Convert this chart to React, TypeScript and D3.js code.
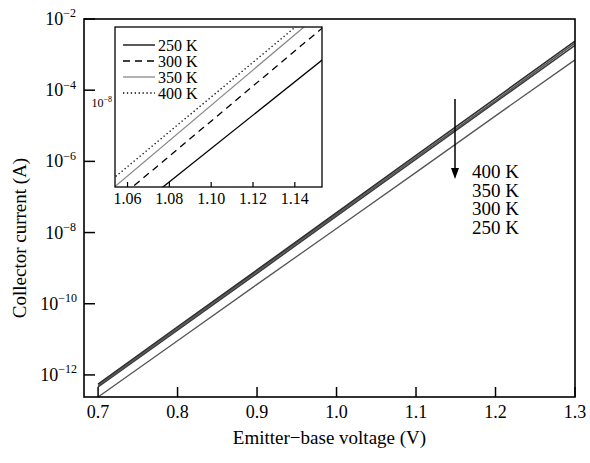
import * as d3 from "d3";

// main plot: collector current (A) vs emitter-base voltage (V)
const voltages = [0.7, 0.8, 0.9, 1.0, 1.1, 1.2, 1.3];
const current400 = [5.5e-13, 2.24e-11, 8.9e-10, 3.6e-8, 1.48e-6, 5.9e-5, 2.4e-3];
const current350 = [5.0e-13, 2.0e-11, 8.1e-10, 3.2e-8, 1.29e-6, 5.1e-5, 2.1e-3];
const current300 = [4.6e-13, 1.82e-11, 7.2e-10, 2.9e-8, 1.15e-6, 4.6e-5, 1.82e-3];
const current250 = [2.4e-13, 9.1e-12, 3.5e-10, 1.3e-8, 4.9e-7, 1.9e-5, 7.1e-4];

// inset (zoom around 1.06 - 1.15 V)
const insetVoltages = [1.05, 1.16];
const inset400 = [1.78e-9, 1.05e-7];
const inset350 = [1.45e-9, 9.1e-8];
const inset300 = [1.05e-9, 6.4e-8];
const inset250 = [6.4e-10, 3.2e-8];

const arrowLabels = ["400 K", "350 K", "300 K", "250 K"];
const insetLegend = ["250 K", "300 K", "350 K", "400 K"];

const xTicks = [0.7, 0.8, 0.9, 1.0, 1.1, 1.2, 1.3];
const yTickExps = [-2, -4, -6, -8, -10, -12];
const insetXTicks = [1.06, 1.08, 1.1, 1.12, 1.14];
const insetYTickExps = [-8];

const W = 590;
const H = 463;
const FONT = "'Liberation Serif', 'Times New Roman', serif";

const frame = { left: 84, right: 575, top: 19, bottom: 397 };
const inset = { left: 115, right: 322, top: 27, bottom: 187 };

const x = d3.scaleLinear().domain([0.6823, 1.3]).range([frame.left, frame.right]);
const y = d3
  .scaleLog()
  .domain([Math.pow(10, -12.62), 1e-2])
  .range([frame.bottom, frame.top]);

const ix = d3.scaleLinear().domain([1.054, 1.153]).range([inset.left, inset.right]);
const iy = d3
  .scaleLog()
  .domain([Math.pow(10, -8.778), Math.pow(10, -7.296)])
  .range([inset.bottom, inset.top]);

const mainLine = d3
  .line<[number, number]>()
  .x((d) => x(d[0]))
  .y((d) => y(d[1]));

const insetLine = d3
  .line<[number, number]>()
  .x((d) => ix(d[0]))
  .y((d) => iy(d[1]));

const zip = (xs: number[], ys: number[]) =>
  xs.map((v, i) => [v, ys[i]] as [number, number]);

const mainSeries = [
  { values: current250, color: "#555", width: 1.3 },
  { values: current300, color: "#3a3a3a", width: 1.6 },
  { values: current350, color: "#555", width: 1.6 },
  { values: current400, color: "#2e2e2e", width: 1.6 },
];

const insetSeries = [
  { values: inset250, color: "#000", dash: "", width: 1.3 },
  { values: inset300, color: "#000", dash: "7,5", width: 1.3 },
  { values: inset350, color: "#888", dash: "", width: 1.3 },
  { values: inset400, color: "#000", dash: "1.3,2.6", width: 1.3 },
];

const Pow10 = ({ exp, xPos, yPos, size, supSize }: any) => (
  <text
    x={xPos}
    y={yPos}
    textAnchor="end"
    fontFamily={FONT}
    fontSize={size}
    fill="#000"
  >
    <tspan>10</tspan>
    <tspan fontSize={supSize} dy={-size * 0.42}>
      {"\u2212" + Math.abs(exp)}
    </tspan>
  </text>
);

export default function App() {
  return (
    <svg
      width={W}
      height={H}
      style={{ position: "absolute", left: 0, top: 0, background: "#fff" }}
    >
      <defs>
        <clipPath id="mainClip">
          <rect
            x={frame.left}
            y={frame.top}
            width={frame.right - frame.left}
            height={frame.bottom - frame.top}
          />
        </clipPath>
        <clipPath id="insetClip">
          <rect
            x={inset.left}
            y={inset.top}
            width={inset.right - inset.left}
            height={inset.bottom - inset.top}
          />
        </clipPath>
      </defs>
      <rect width={W} height={H} fill="#fff" />

      {/* main curves */}
      <g clipPath="url(#mainClip)" fill="none">
        {mainSeries.map((s, i) => (
          <path
            key={i}
            d={mainLine(zip(voltages, s.values)) || ""}
            stroke={s.color}
            strokeWidth={s.width}
          />
        ))}
      </g>

      {/* main frame + ticks */}
      <rect
        x={frame.left}
        y={frame.top}
        width={frame.right - frame.left}
        height={frame.bottom - frame.top}
        fill="none"
        stroke="#000"
        strokeWidth={1.6}
      />
      {xTicks.map((t) => (
        <g key={t}>
          <line
            x1={x(t)}
            x2={x(t)}
            y1={frame.bottom}
            y2={frame.bottom - 10}
            stroke="#000"
            strokeWidth={1.5}
          />
          <text
            x={x(t)}
            y={frame.bottom + 21}
            textAnchor="middle"
            fontFamily={FONT}
            fontSize={18}
          >
            {d3.format(".1f")(t)}
          </text>
        </g>
      ))}
      {yTickExps.map((e) => (
        <g key={e}>
          <line
            x1={frame.left}
            x2={frame.left + 11}
            y1={y(Math.pow(10, e))}
            y2={y(Math.pow(10, e))}
            stroke="#000"
            strokeWidth={1.5}
          />
          <Pow10
            exp={e}
            xPos={e <= -10 ? 77 : 76}
            yPos={y(Math.pow(10, e)) + 6}
            size={18}
            supSize={12}
          />
        </g>
      ))}

      <text
        x={(frame.left + frame.right) / 2}
        y={444}
        textAnchor="middle"
        fontFamily={FONT}
        fontSize={19}
      >
        Emitter{"\u2212"}base voltage (V)
      </text>
      <text
        transform={`translate(26,238) rotate(-90)`}
        textAnchor="middle"
        fontFamily={FONT}
        fontSize={19}
      >
        Collector current (A)
      </text>

      {/* arrow and temperature labels */}
      <line x1={455} x2={455} y1={99} y2={170} stroke="#000" strokeWidth={1.5} />
      <path d="M451,168 L459,168 L455,179 Z" fill="#000" />
      {arrowLabels.map((l, i) => (
        <text
          key={l}
          x={472}
          y={178 + i * 18.5}
          fontFamily={FONT}
          fontSize={19}
        >
          {l}
        </text>
      ))}

      {/* inset */}
      <rect
        x={inset.left}
        y={inset.top}
        width={inset.right - inset.left}
        height={inset.bottom - inset.top}
        fill="#fff"
      />
      <g clipPath="url(#insetClip)" fill="none">
        {insetSeries.map((s, i) => (
          <path
            key={i}
            d={insetLine(zip(insetVoltages, s.values)) || ""}
            stroke={s.color}
            strokeWidth={s.width}
            strokeDasharray={s.dash}
          />
        ))}
      </g>
      <rect
        x={inset.left}
        y={inset.top}
        width={inset.right - inset.left}
        height={inset.bottom - inset.top}
        fill="none"
        stroke="#000"
        strokeWidth={1.3}
      />
      {insetXTicks.map((t) => (
        <g key={t}>
          <line
            x1={ix(t)}
            x2={ix(t)}
            y1={inset.bottom}
            y2={inset.bottom - 5}
            stroke="#000"
            strokeWidth={1.2}
          />
          <text
            x={ix(t)}
            y={inset.bottom + 17}
            textAnchor="middle"
            fontFamily={FONT}
            fontSize={16}
          >
            {d3.format(".2f")(t)}
          </text>
        </g>
      ))}
      {insetYTickExps.map((e) => (
        <Pow10
          key={e}
          exp={e}
          xPos={inset.left - 3}
          yPos={iy(Math.pow(10, e)) + 4}
          size={12}
          supSize={8}
        />
      ))}
      {insetLegend.map((l, i) => (
        <g key={l}>
          <line
            x1={123}
            x2={155}
            y1={45 + i * 16}
            y2={45 + i * 16}
            stroke={insetSeries[i].color}
            strokeWidth={1.3}
            strokeDasharray={insetSeries[i].dash}
          />
          <text x={158} y={50.5 + i * 16} fontFamily={FONT} fontSize={16}>
            {l}
          </text>
        </g>
      ))}
    </svg>
  );
}
